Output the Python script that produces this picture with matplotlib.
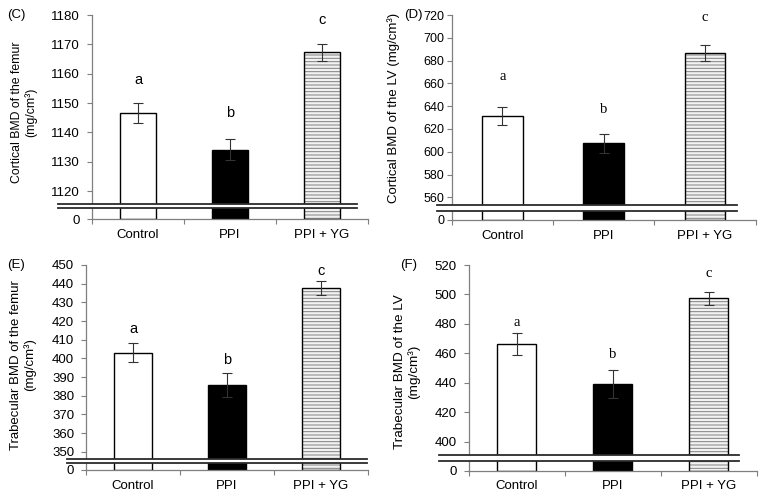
import matplotlib
matplotlib.use("Agg")
import matplotlib.pyplot as plt
from matplotlib.patches import Rectangle

plt.rcParams["font.family"] = ["Liberation Sans", "DejaVu Sans"]
plt.rcParams["hatch.linewidth"] = 0.7

W, H = 762, 497

groups = ["Control", "PPI", "PPI + YG"]

# (C) cortical BMD, femur
c_mean = [1146.7, 1134.1, 1167.3]
c_err = [3.4, 3.6, 2.9]
c_letters = ["a", "b", "c"]
c_letter_y = [1158.0, 1146.6, 1178.3]
c_ticks = [1120, 1130, 1140, 1150, 1160, 1170, 1180]

# (D) cortical BMD, LV
d_mean = [631.3, 607.3, 687.0]
d_err = [8.0, 8.2, 7.0]
d_letters = ["a", "b", "c"]
d_letter_y = [665.8, 637.5, 718.0]
d_ticks = [560, 580, 600, 620, 640, 660, 680, 700, 720]

# (E) trabecular BMD, femur
e_mean = [403.0, 385.7, 437.8]
e_err = [5.0, 6.2, 3.7]
e_letters = ["a", "b", "c"]
e_letter_y = [415.7, 399.0, 447.0]
e_ticks = [350, 360, 370, 380, 390, 400, 410, 420, 430, 440, 450]

# (F) trabecular BMD, LV
f_mean = [466.3, 439.2, 497.4]
f_err = [7.7, 9.3, 4.5]
f_letters = ["a", "b", "c"]
f_letter_y = [480.8, 459.1, 514.4]
f_ticks = [400, 420, 440, 460, 480, 500, 520]


def px_axes(left, right, top, bottom):
    return fig.add_axes([left / W, 1 - bottom / H, (right - left) / W, (bottom - top) / H])


def draw_panel(ax, means, errs, letters, letter_y, ticks, floor, breaks, brk_x,
               serif=False, ysize=9.5, ypad=5):
    x = [0.5, 1.5, 2.5]
    heights = [m - floor for m in means]
    ax.bar(x[0], heights[0], bottom=floor, width=0.4, color="white",
           edgecolor="black", linewidth=1.0, zorder=2)
    ax.bar(x[1], heights[1], bottom=floor, width=0.4, color="black",
           edgecolor="black", linewidth=1.0, zorder=2)
    ax.bar(x[2], heights[2], bottom=floor, width=0.4, color="#f2f2f2",
           edgecolor="#808080", hatch="-----", linewidth=0, zorder=2)
    ax.bar(x[2], heights[2], bottom=floor, width=0.4, fill=False,
           edgecolor="black", linewidth=1.0, zorder=2)
    ax.errorbar(x, means, yerr=errs, fmt="none", ecolor="#333333",
                elinewidth=0.8, capsize=3.5, capthick=0.8, zorder=3)

    fam = ["Liberation Serif", "DejaVu Serif"] if serif else ["Liberation Sans", "DejaVu Sans"]
    for xi, lab, ly in zip(x, letters, letter_y):
        ax.text(xi, ly, lab, ha="center", va="center", fontsize=10.5, family=fam)

    ax.set_xlim(0, 3)
    ax.set_ylim(floor, ticks[-1])
    ax.set_yticks([floor] + ticks)
    ax.set_yticklabels(["0"] + [str(t) for t in ticks])
    ax.set_xticks([0, 1, 2, 3], minor=False)
    ax.set_xticklabels([])
    ax.set_xticks(x, minor=True)
    ax.set_xticklabels(groups, minor=True)
    ax.tick_params(axis="x", which="major", direction="out", length=3.5,
                   color="#7f7f7f", width=0.8)
    ax.tick_params(axis="x", which="minor", length=0, pad=7, labelsize=9.5)
    ax.tick_params(axis="y", direction="out", length=3.5, color="#7f7f7f",
                   width=0.8, pad=ypad, labelsize=ysize)
    for s in ["top", "right"]:
        ax.spines[s].set_visible(False)
    for s in ["left", "bottom"]:
        ax.spines[s].set_color("#7f7f7f")
        ax.spines[s].set_linewidth(0.9)

    # axis break: white band framed by two lines, reaching past the y axis
    bbox = ax.get_position()
    x0 = brk_x[0] / W
    x1 = brk_x[1] / W
    y_hi = bbox.y0 + breaks[0] * bbox.height
    y_lo = bbox.y0 + breaks[1] * bbox.height
    fig.patches.append(Rectangle((x0, y_lo), x1 - x0, y_hi - y_lo,
                                 transform=fig.transFigure, facecolor="white",
                                 edgecolor="none", zorder=5))
    for yy in (y_hi, y_lo):
        fig.lines.append(plt.Line2D([x0, x1], [yy, yy], transform=fig.transFigure,
                                    color="#2b2b2b", linewidth=1.3, zorder=6))


fig = plt.figure(figsize=(W / 100, H / 100), dpi=100)

ax_c = px_axes(92, 368, 15, 219.3)
draw_panel(ax_c, c_mean, c_err, c_letters, c_letter_y, c_ticks, 1110.4,
           (0.075, 0.054), (58, 357))

ax_d = px_axes(451.7, 755.7, 15, 220)
draw_panel(ax_d, d_mean, d_err, d_letters, d_letter_y, d_ticks, 540.1,
           (0.073, 0.045), (437, 737), serif=True, ysize=9, ypad=2)

ax_e = px_axes(86, 368, 265, 470)
draw_panel(ax_e, e_mean, e_err, e_letters, e_letter_y, e_ticks, 340.2,
           (0.054, 0.036), (67, 367))

ax_f = px_axes(468.5, 756.7, 265, 470.5)
draw_panel(ax_f, f_mean, f_err, f_letters, f_letter_y, f_ticks, 380.4,
           (0.075, 0.046), (439, 739), serif=True)

ylabels = [
    (24, 112, "Cortical BMD of the femur\n(mg/cm\u00b3)", 8.8),
    (394, 108, "Cortical BMD of the LV (mg/cm\u00b3)", 9.5),
    (23, 365, "Trabecular BMD of the femur\n(mg/cm\u00b3)", 9.5),
    (407, 372, "Trabecular BMD of the LV\n(mg/cm\u00b3)", 9.7),
]
for xp, yp, txt, fs in ylabels:
    fig.text(xp / W, 1 - yp / H, txt, rotation=90, ha="center", va="center",
             multialignment="center", fontsize=fs, linespacing=1.15)

for xp, yp, txt in [(16, 15, "(C)"), (413, 15, "(D)"), (16, 265, "(E)"), (409, 265, "(F)")]:
    fig.text(xp / W, 1 - yp / H, txt, ha="center", va="center", fontsize=9.5)

fig.savefig("out.png", dpi=100)
